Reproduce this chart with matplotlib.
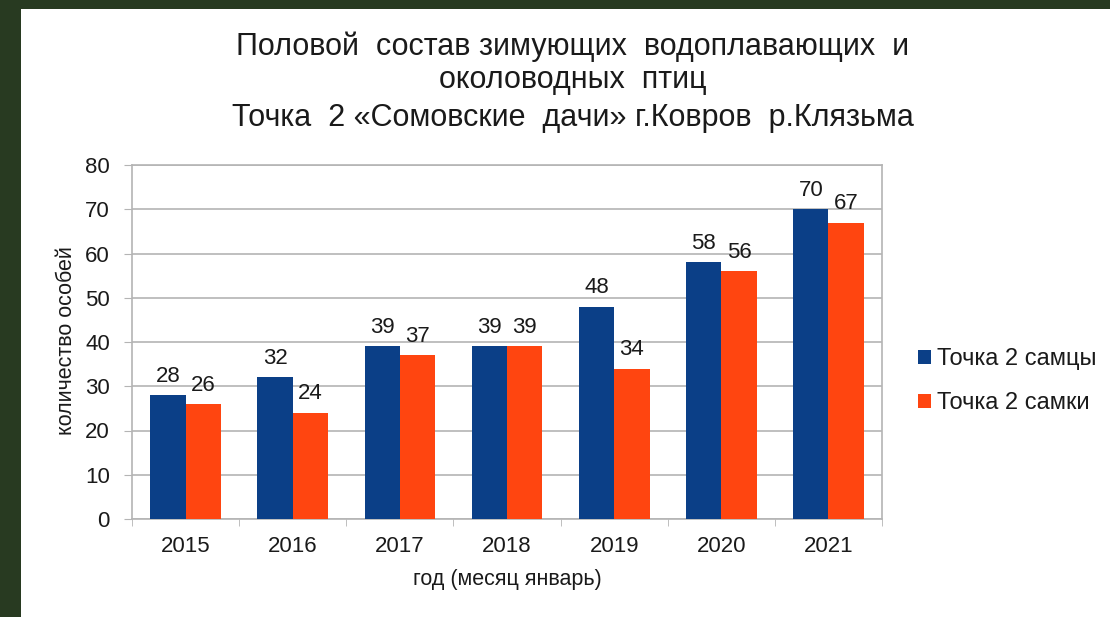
import numpy as np
import matplotlib
matplotlib.use('Agg')
import matplotlib.pyplot as plt
from matplotlib.patches import Rectangle

plt.rcParams['font.family'] = ['Liberation Sans', 'DejaVu Sans']

years = ['2015', '2016', '2017', '2018', '2019', '2020', '2021']
males = [28, 32, 39, 39, 48, 58, 70]
females = [26, 24, 37, 39, 34, 56, 67]
seriesNames = ['Точка 2 самцы', 'Точка 2 самки']
yTicks = [0, 10, 20, 30, 40, 50, 60, 70, 80]

titleLines = ['Половой  состав зимующих  водоплавающих  и',
              'околоводных  птиц',
              'Точка  2 «Сомовские  дачи» г.Ковров  р.Клязьма']

navy = '#0B3F87'
orange = '#FF4510'
frameGreen = '#283A21'
gridGray = '#B4B4B4'
textCol = '#1a1a1a'

fig = plt.figure(figsize=(11.1, 6.17), dpi=100)
fig.patch.set_facecolor('white')

# dark frame strips (top and left)
fig.patches.append(Rectangle((0, 1 - 9 / 617), 1, 9 / 617, transform=fig.transFigure,
                             facecolor=frameGreen, edgecolor='none', zorder=0))
fig.patches.append(Rectangle((0, 0), 21 / 1110, 1, transform=fig.transFigure,
                             facecolor=frameGreen, edgecolor='none', zorder=0))

ax = fig.add_axes([132 / 1110, 1 - 519 / 617, 750 / 1110, 354 / 617])

x = np.arange(len(years))
w = 0.33
b1 = ax.bar(x - w / 2, males, w, color=navy, label=seriesNames[0], zorder=3)
b2 = ax.bar(x + w / 2, females, w, color=orange, label=seriesNames[1], zorder=3)

for bars, vals in ((b1, males), (b2, females)):
    for rect, v in zip(bars, vals):
        ax.annotate(str(v), (rect.get_x() + rect.get_width() / 2, v),
                    xytext=(0, 6), textcoords='offset points',
                    ha='center', va='bottom', fontsize=16, color=textCol)

ax.set_xlim(-0.5, len(years) - 0.5)
ax.set_ylim(0, 80)
ax.set_yticks(yTicks)
ax.set_xticks(x)
ax.set_xticklabels(years)
ax.set_xticks(np.arange(-0.5, len(years)), minor=True)
ax.tick_params(axis='x', which='major', length=0, pad=12, labelsize=16, colors=textCol)
ax.tick_params(axis='x', which='minor', length=5, color=gridGray, direction='out')
ax.tick_params(axis='y', length=6, color=gridGray, pad=10, labelsize=16, colors=textCol)

ax.grid(axis='y', color=gridGray, linewidth=1.2, zorder=0)
for s in ax.spines.values():
    s.set_color(gridGray)
    s.set_linewidth(1.2)

ax.set_ylabel('количество особей', fontsize=15.5, color=textCol)
ax.set_xlabel('год (месяц январь)', fontsize=15.5, color=textCol)
ax.yaxis.set_label_coords(-0.087, 0.503)
ax.xaxis.set_label_coords(0.5, -0.172)
ax.xaxis.label.set_va('center')
ax.yaxis.label.set_va('center')

for txt, yPix in zip(titleLines, [47, 80, 118]):
    fig.text(573 / 1110, 1 - yPix / 617, txt, ha='center', va='center',
             fontsize=22, color=textCol)

leg = fig.legend(handles=[b1, b2], loc='center left', bbox_to_anchor=(0.827, 0.382),
                 borderaxespad=0, borderpad=0, frameon=False, fontsize=17,
                 handlelength=0.55, handleheight=0.55,
                 handletextpad=0.25, labelspacing=0.92)
for t in leg.get_texts():
    t.set_color(textCol)

plt.savefig('out.png', dpi=100)
